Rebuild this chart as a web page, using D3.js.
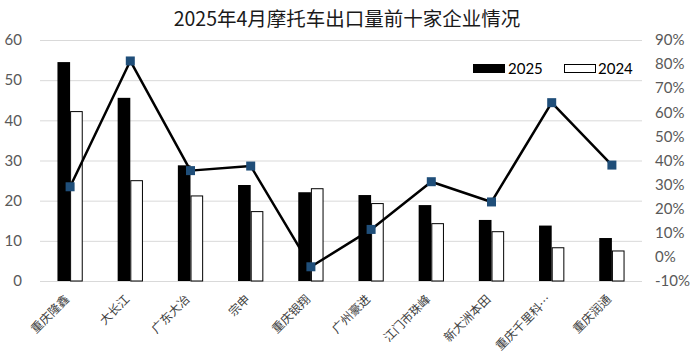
<!DOCTYPE html>
<html><head><meta charset="utf-8">
<script src="https://cdn.jsdelivr.net/npm/d3@7/dist/d3.min.js"></script>
<style>body{margin:0;background:#fff}svg{display:block}</style>
</head><body>
<svg id="c" width="691" height="355"></svg>
<script>
const categories = ["重庆隆鑫","大长江","广东大冶","宗申","重庆银翔","广州豪进","江门市珠峰","新大洲本田","重庆千里科…","重庆润通"];
const v2025 = [54.5,45.6,28.8,23.9,22.1,21.4,18.9,15.2,13.8,10.7];
const v2024 = [42.3,25.1,21.3,17.4,23.1,19.4,14.4,12.4,8.4,7.6];
const growth = [29.1,81.3,35.8,37.7,-4.1,11.4,31.2,22.8,64.0,38.1];
const leftTicks = [0,10,20,30,40,50,60];
const rightTicks = [-10,0,10,20,30,40,50,60,70,80,90];
const title = "2025年4月摩托车出口量前十家企业情况";

const svg = d3.select("#c");
const L = 40, R = 642, T = 40, B = 281;
const x = d3.scaleBand().domain(categories).range([L, R]);
const y = d3.scaleLinear().domain([0, 60]).range([B, T]);
const y2 = d3.scaleLinear().domain([-10, 90]).range([B, T]);
const numFont = "Lato, 'Noto Sans CJK SC', sans-serif";
const cjk = "'Noto Sans CJK SC', sans-serif";

svg.append("text").attr("x", 347).attr("y", 26).attr("text-anchor", "middle")
  .attr("font-family", cjk).attr("font-size", 19.5).attr("fill", "#1a1a1a").text(title);

svg.append("g").selectAll("line").data(leftTicks).join("line")
  .attr("x1", L).attr("x2", R).attr("y1", d => y(d) + 0.5).attr("y2", d => y(d) + 0.5)
  .attr("stroke", "#d9d9d9").attr("stroke-width", 1);

svg.append("g").selectAll("text").data(leftTicks).join("text")
  .attr("x", 22).attr("y", d => y(d)).attr("dy", "0.35em").attr("text-anchor", "end")
  .attr("font-family", numFont).attr("font-size", 15).attr("fill", "#595959").text(d => d);

svg.append("g").selectAll("text").data(rightTicks).join("text")
  .attr("x", 655).attr("y", d => y2(d)).attr("dy", "0.35em").attr("text-anchor", "start")
  .attr("font-family", numFont).attr("font-size", 15).attr("fill", "#595959").text(d => d + "%");

const bw = x.bandwidth() * 0.21;
const g = svg.append("g");
g.selectAll("rect.b25").data(categories).join("rect").attr("class", "b25")
  .attr("x", d => x(d) + x.bandwidth()/2 - bw).attr("width", bw)
  .attr("y", (d, i) => y(v2025[i])).attr("height", (d, i) => B - y(v2025[i]))
  .attr("fill", "#000");
g.selectAll("rect.b24").data(categories).join("rect").attr("class", "b24")
  .attr("x", d => x(d) + x.bandwidth()/2 + 0.5).attr("width", bw - 1)
  .attr("y", (d, i) => y(v2024[i]) + 0.5).attr("height", (d, i) => B - y(v2024[i]) - 0.5)
  .attr("fill", "#fff").attr("stroke", "#000").attr("stroke-width", 1);

const line = d3.line().x((d, i) => x(categories[i]) + x.bandwidth()/2).y(d => y2(d));
svg.append("path").datum(growth).attr("d", line).attr("fill", "none")
  .attr("stroke", "#000").attr("stroke-width", 2.5).attr("stroke-linejoin", "round");
const ms = 9;
svg.append("g").selectAll("rect").data(growth).join("rect")
  .attr("x", (d, i) => x(categories[i]) + x.bandwidth()/2 - ms/2)
  .attr("y", d => y2(d) - ms/2).attr("width", ms).attr("height", ms)
  .attr("fill", "#1f4e79");

svg.append("g").selectAll("text").data(categories).join("text")
  .attr("transform", d => `translate(${x(d) + x.bandwidth()/2 - 3},${297}) rotate(-45)`)
  .attr("text-anchor", "end").attr("dy", "0.35em")
  .attr("font-family", cjk).attr("font-size", 12).attr("fill", "#404040").text(d => d);

const leg = svg.append("g");
leg.append("rect").attr("x", 473).attr("y", 64).attr("width", 32).attr("height", 9).attr("fill", "#000");
leg.append("text").attr("x", 508).attr("y", 69).attr("dy", "0.35em").attr("font-family", numFont)
  .attr("font-size", 15).attr("fill", "#000").text("2025");
leg.append("rect").attr("x", 564.5).attr("y", 64.5).attr("width", 31).attr("height", 8).attr("fill", "#fff").attr("stroke", "#000");
leg.append("text").attr("x", 598).attr("y", 69).attr("dy", "0.35em").attr("font-family", numFont)
  .attr("font-size", 15).attr("fill", "#000").text("2024");
</script>
</body></html>
